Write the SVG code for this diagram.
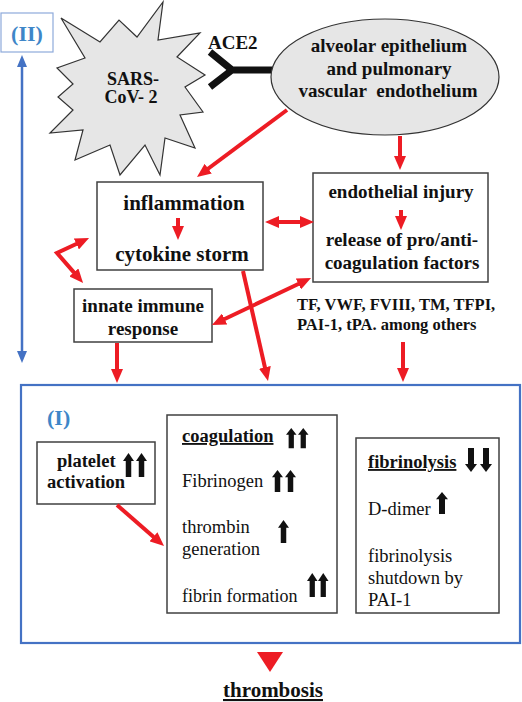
<svg xmlns="http://www.w3.org/2000/svg" xmlns:xlink="http://www.w3.org/1999/xlink" width="522" height="702" viewBox="0 0 522 702">
<style>
.box{fill:#fff;stroke:#404040;stroke-width:1.5}
.b{font-family:"Liberation Serif","Times New Roman",serif;font-weight:bold;fill:#111}
.r{font-family:"Liberation Serif","Times New Roman",serif;fill:#111}
.c{text-anchor:middle}
.u{text-decoration:underline}
.blue{fill:#3e86c8}
.red{stroke:#ed1c24;stroke-width:4;fill:none}
.blk{fill:#111}
</style>
<defs>
<marker id="ah" markerUnits="userSpaceOnUse" markerWidth="14" markerHeight="12" refX="4" refY="6" orient="auto-start-reverse" viewBox="0 0 14 12">
<path d="M0,0 L14,6 L0,12 Z" fill="#ed1c24"/>
</marker>
<marker id="bh" markerUnits="userSpaceOnUse" markerWidth="12" markerHeight="10" refX="2" refY="5" orient="auto-start-reverse" viewBox="0 0 12 10">
<path d="M0,0 L12,5 L0,10 Z" fill="#4472c4"/>
</marker>
<path id="up" d="M5,0 L10,8 L7.5,8 L7.5,24 L2.5,24 L2.5,8 L0,8 Z"/>
</defs>

<g id="label-II">
<rect x="1" y="13" width="52" height="39" fill="#fff" stroke="#8eaadb" stroke-width="1.2"/>
<text x="27" y="41" class="b c blue" font-size="22">(II)</text>
</g>

<g id="sars-cov-2">
<polygon points="61,18 100,42 119,20 137,37 163,2 158,40 200,33 177,57 205,75 185,87 203,112 180,115 195,148 165,138 160,175 145,145 120,175 110,145 75,160 83,130 50,133 73,110 58,97 73,84 57,68 85,58" fill="#e6e6e6" stroke="#333" stroke-width="1.2" stroke-linejoin="miter"/>
<text x="133" y="85" class="b c" font-size="18">SARS-</text>
<text x="131" y="103" class="b c" font-size="18">CoV- 2</text>
</g>

<g id="ace2">
<path d="M210,52 L232,70 L210,87 M232,70 L273,70" fill="none" stroke="#111" stroke-width="7"/>
<text x="208" y="49" class="b" font-size="19">ACE2</text>
</g>

<g id="alveolar">
<ellipse cx="385" cy="77" rx="114" ry="58" fill="#e6e6e6" stroke="#333" stroke-width="1.2"/>
<text x="389" y="52" class="b c" font-size="19">alveolar epithelium</text>
<text x="389" y="75" class="b c" font-size="19">and pulmonary</text>
<text x="388" y="97" class="b c" font-size="19" style="white-space:pre">vascular  endothelium</text>
</g>

<g id="inflammation">
<rect class="box" x="97" y="182" width="166" height="88"/>
<text x="184" y="210" class="b c" font-size="21">inflammation</text>
<text x="182" y="261" class="b c" font-size="21">cytokine storm</text>
</g>

<g id="endothelial">
<rect class="box" x="313" y="173" width="175" height="109"/>
<text x="401" y="198" class="b c" font-size="19">endothelial injury</text>
<text x="402" y="246" class="b c" font-size="19">release of pro/anti-</text>
<text x="402" y="269" class="b c" font-size="19">coagulation factors</text>
</g>

<g id="factors">
<text x="297" y="310" class="b" font-size="16.5">TF, VWF, FVIII, TM, TFPI,</text>
<text x="297" y="330" class="b" font-size="16.5">PAI-1, tPA. among others</text>
</g>

<g id="innate">
<rect class="box" x="74" y="289" width="138" height="53"/>
<text x="143" y="312" class="b c" font-size="19">innate immune</text>
<text x="143" y="335" class="b c" font-size="19">response</text>
</g>

<g id="group-I">
<rect x="21" y="385" width="499" height="258" fill="none" stroke="#4472c4" stroke-width="2.2"/>
<text x="47" y="425" class="b blue" font-size="22">(I)</text>
</g>

<g id="platelet">
<rect class="box" x="37" y="442" width="118" height="62"/>
<text x="57" y="467" class="b" font-size="18.5">platelet</text>
<text x="47" y="488" class="b" font-size="18.5">activation</text>
<use href="#up" class="blk" transform="translate(123,453) scale(1.1,1)"/>
<use href="#up" class="blk" transform="translate(136,453) scale(1.1,1)"/>
</g>

<g id="coagulation">
<rect class="box" x="167" y="415" width="170" height="198"/>
<text x="182" y="442" class="b u" font-size="18.5">coagulation</text>
<use href="#up" class="blk" transform="translate(286,428) scale(1.05,0.84)"/>
<use href="#up" class="blk" transform="translate(298,428) scale(1.05,0.84)"/>
<text x="182" y="487" class="r" font-size="18.5">Fibrinogen</text>
<use href="#up" class="blk" transform="translate(272,470) scale(1.1,0.92)"/>
<use href="#up" class="blk" transform="translate(285,470) scale(1.1,0.92)"/>
<text x="182" y="533" class="r" font-size="18.5">thrombin</text>
<text x="182" y="555" class="r" font-size="18.5">generation</text>
<use href="#up" class="blk" transform="translate(278,520) scale(1.1,0.96)"/>
<text x="182" y="602" class="r" font-size="18">fibrin formation</text>
<use href="#up" class="blk" transform="translate(307,573) scale(1.05,1)"/>
<use href="#up" class="blk" transform="translate(318,573) scale(1.05,1)"/>
</g>

<g id="fibrinolysis">
<rect class="box" x="356" y="438" width="143" height="175"/>
<text x="368" y="468" class="b u" font-size="18.5">fibrinolysis</text>
<use href="#up" class="blk" transform="translate(477,472) scale(1.2,1) rotate(180)"/>
<use href="#up" class="blk" transform="translate(492,472) scale(1.2,1) rotate(180)"/>
<text x="368" y="515" class="r" font-size="18.5">D-dimer</text>
<use href="#up" class="blk" transform="translate(436,492) scale(1.2,0.92)"/>
<text x="368" y="562" class="r" font-size="18.5">fibrinolysis</text>
<text x="368" y="584" class="r" font-size="18.5">shutdown by</text>
<text x="368" y="606" class="r" font-size="18.5">PAI-1</text>
</g>

<g id="thrombosis">
<polygon points="257,652 283,652 270,672" fill="#ed1c24"/>
<text x="273" y="697" class="b c u" font-size="21">thrombosis</text>
</g>

<g id="connectors">
<line x1="22" y1="65" x2="22" y2="353" stroke="#4472c4" stroke-width="2.5" marker-start="url(#bh)" marker-end="url(#bh)"/>
<line class="red" x1="287" y1="110" x2="205" y2="171" marker-end="url(#ah)"/>
<line class="red" x1="400" y1="136" x2="400" y2="160" marker-end="url(#ah)"/>
<line class="red" x1="178" y1="218" x2="178" y2="230" marker-end="url(#ah)"/>
<line class="red" x1="401" y1="210" x2="401" y2="220" marker-end="url(#ah)"/>
<line class="red" x1="275" y1="222" x2="304" y2="222" marker-start="url(#ah)" marker-end="url(#ah)"/>
<polyline class="red" points="80,242.3 57,253 76.5,275.4" marker-start="url(#ah)" marker-end="url(#ah)"/>
<line class="red" x1="243" y1="271" x2="265.8" y2="371.2" marker-end="url(#ah)"/>
<line class="red" x1="221" y1="320.7" x2="302" y2="282.3" marker-start="url(#ah)" marker-end="url(#ah)"/>
<line class="red" x1="117" y1="343" x2="117" y2="373" marker-end="url(#ah)"/>
<line class="red" x1="403" y1="342" x2="403" y2="372" marker-end="url(#ah)"/>
<line class="red" x1="117" y1="505" x2="156.5" y2="539.4" marker-end="url(#ah)"/>
</g>
</svg>
